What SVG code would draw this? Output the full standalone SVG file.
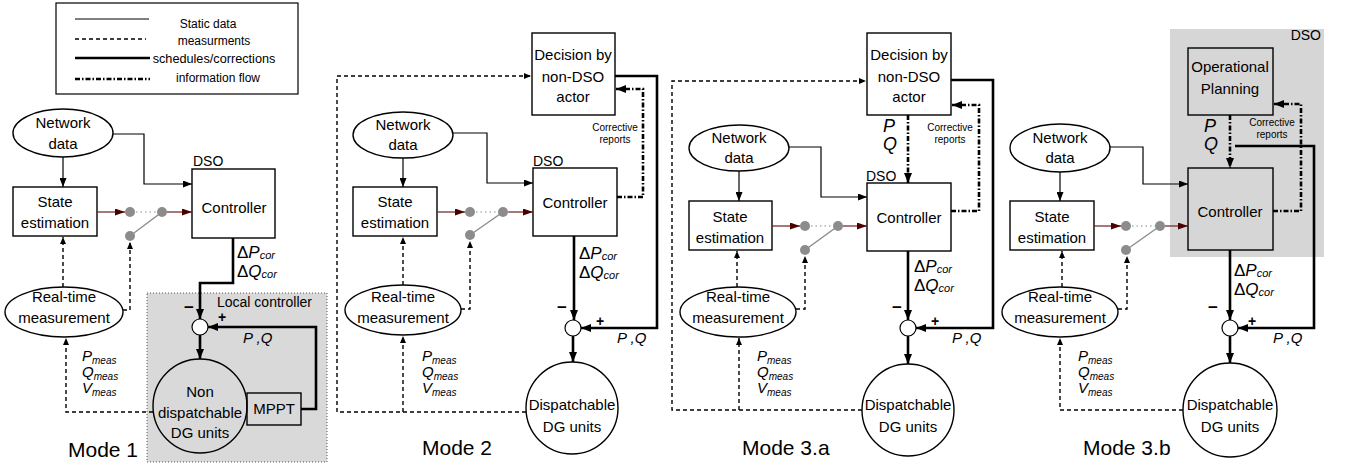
<svg xmlns="http://www.w3.org/2000/svg" width="1345" height="466" viewBox="0 0 1345 466">
  <style>
    text { font-family: "Liberation Sans", Arial, sans-serif; fill: #000; }
    .t { font-size: 15px; text-anchor: middle; }
    .lg { font-size: 12px; text-anchor: middle; }
    .sm { font-size: 10px; text-anchor: middle; }
    .md { font-size: 21px; }
    .lbl { font-size: 14px; }
    .it { font-style: italic; }
    .big { font-size: 17px; }
    .pq { font-size: 18px; font-style: italic; }
    .mth { font-size: 15px; font-style: italic; }
    .sub { font-size: 10px; font-style: italic; }
    .subb { font-size: 11px; font-style: italic; }
    .sign { font-size: 17px; font-weight: bold; text-anchor: middle; }
    .box { fill: #fff; stroke: #000; stroke-width: 1.4; }
    .gbox { fill: none; stroke: #000; stroke-width: 1.4; }
    .sum { fill: #fff; stroke: #000; stroke-width: 1.2; }
    .thin { fill: none; stroke: #000; stroke-width: 1.2; marker-end: url(#arr); }
    .dash { fill: none; stroke: #000; stroke-width: 1.4; stroke-dasharray: 4 3; }
    .dasha { fill: none; stroke: #000; stroke-width: 1.4; stroke-dasharray: 4 3; marker-end: url(#arrs); }
    .thicka { fill: none; stroke: #000; stroke-width: 2.6; marker-end: url(#arrb); }
    .info { fill: none; stroke: #000; stroke-width: 2.6; stroke-dasharray: 5 2 1.5 2; marker-end: url(#arrb); }
    .red { fill: none; stroke: #6b1f1f; stroke-width: 1.2; marker-end: url(#arrr); }
    .dot { fill: #8c8c8c; }
    .gl { stroke: #8c8c8c; stroke-width: 1.4; fill: none; }
    .gd { stroke: #8c8c8c; stroke-width: 1.2; stroke-dasharray: 1.5 3; fill: none; }
  </style>
  <defs>
    <marker id="arr" markerUnits="userSpaceOnUse" markerWidth="9" markerHeight="7" refX="9" refY="3.5" orient="auto">
      <path d="M0,0 L9,3.5 L0,7 z" fill="#000"/>
    </marker>
    <marker id="arrs" markerUnits="userSpaceOnUse" markerWidth="7" markerHeight="6" refX="7" refY="3" orient="auto">
      <path d="M0,0 L7,3 L0,6 z" fill="#000"/>
    </marker>
    <marker id="arrb" markerUnits="userSpaceOnUse" markerWidth="10" markerHeight="8" refX="10" refY="4" orient="auto">
      <path d="M0,0 L10,4 L0,8 z" fill="#000"/>
    </marker>
    <marker id="arrr" markerUnits="userSpaceOnUse" markerWidth="10" markerHeight="7" refX="10" refY="3.5" orient="auto">
      <path d="M0,0 L10,3.5 L0,7 z" fill="#4a0000"/>
    </marker>
  </defs>

  <!-- Legend -->
  <g id="legend">
    <rect x="56" y="3" width="242" height="91" fill="#fff" stroke="#000" stroke-width="1.2"/>
    <line x1="75" y1="19" x2="149" y2="19" stroke="#000" stroke-width="1.2"/>
    <line x1="75" y1="39" x2="146" y2="39" class="dash"/>
    <line x1="75" y1="58" x2="150" y2="58" stroke="#000" stroke-width="2.6"/>
    <line x1="75" y1="79" x2="150" y2="79" stroke="#000" stroke-width="2.6" stroke-dasharray="5 2 1.5 2"/>
    <text class="lg" x="208" y="28">Static data</text>
    <text class="lg" x="214" y="45">measurments</text>
    <text class="lg" x="214" y="63" style="font-size:12.7px">schedules/corrections</text>
    <text class="lg" x="218" y="82">information flow</text>
  </g>

  <!-- ================= Mode 1 ================= -->
  <g id="mode1">
    <g id="m1-local">
      <rect x="147" y="293" width="180" height="169" fill="#d9d9d9" stroke="#555" stroke-width="1" stroke-dasharray="1 2"/>
      <text class="lbl" x="217" y="307">Local controller</text>
    </g>
    <g id="m1-netdata">
      <ellipse cx="63" cy="133" rx="50" ry="24" class="box"/>
      <text class="t" x="63" y="128">Network</text>
      <text class="t" x="63" y="149">data</text>
    </g>
    <g id="m1-state">
      <rect x="13" y="187" width="84" height="49" class="box"/>
      <text class="t" x="55" y="207">State</text>
      <text class="t" x="55" y="228">estimation</text>
    </g>
    <g id="m1-controller">
      <rect x="192" y="169" width="83" height="69" class="box"/>
      <text class="lbl" x="193" y="166">DSO</text>
      <text class="t" x="234" y="213">Controller</text>
    </g>
    <g id="m1-realtime">
      <ellipse cx="64" cy="312" rx="59" ry="25" class="box"/>
      <text class="t" x="64" y="302">Real-time</text>
      <text class="t" x="64" y="323">measurement</text>
    </g>
    <g id="m1-sum">
      <circle cx="200" cy="327" r="8" class="sum"/>
      <text class="sign" x="189" y="313">−</text>
      <text class="sign" x="222" y="322" style="font-size:14px">+</text>
    </g>
    <g id="m1-dg">
      <circle cx="200" cy="406" r="47" class="gbox"/>
      <text class="t" x="200" y="397">Non</text>
      <text class="t" x="200" y="418">dispatchable</text>
      <text class="t" x="200" y="438">DG units</text>
    </g>
    <g id="m1-mppt">
      <rect x="247" y="393" width="54" height="32" class="gbox"/>
      <text class="t" x="274" y="414">MPPT</text>
    </g>
    <g id="m1-switch">
      <circle cx="130" cy="212" r="5" class="dot"/>
      <circle cx="162" cy="212" r="5" class="dot"/>
      <circle cx="130" cy="236" r="5" class="dot"/>
      <line x1="136" y1="212" x2="157" y2="212" class="gd"/>
      <line x1="130" y1="236" x2="162" y2="212" class="gl"/>
    </g>
    <g id="m1-connectors">
      <line x1="63" y1="157" x2="63" y2="187" class="thin"/>
      <polyline points="113,134 144,134 144,184 192,184" class="thin"/>
      <line x1="97" y1="212" x2="125" y2="212" class="red"/>
      <line x1="167" y1="212" x2="192" y2="212" class="red"/>
      <line x1="63" y1="287" x2="63" y2="237" class="dasha"/>
      <polyline points="123,310 130,310 130,242" class="dasha"/>
      <polyline points="153,412 66,412 66,338" class="dasha"/>
      <polyline points="233,238 233,283 200,283 200,319" class="thicka"/>
      <line x1="200" y1="335" x2="200" y2="359" class="thicka"/>
      <polyline points="301,409 316,409 316,327 208,327" class="thicka"/>
    </g>
    <g id="m1-labels">
      <text class="big" x="237" y="258">Δ<tspan class="it">P</tspan><tspan class="subb" dy="1">cor</tspan><tspan x="237" dy="18">Δ</tspan><tspan class="it">Q</tspan><tspan class="subb" dy="1">cor</tspan></text>
      <text class="mth" x="243" y="343">P ,Q</text>
      <text class="mth" x="82" y="361">P<tspan class="sub" dy="3">meas</tspan><tspan x="82" dy="13">Q</tspan><tspan class="sub" dy="3">meas</tspan><tspan x="82" dy="13">V</tspan><tspan class="sub" dy="3">meas</tspan></text>
      <text class="md" x="68" y="457">Mode 1</text>
    </g>
  </g>

  <!-- ================= Mode 2 ================= -->
  <g id="mode2">
    <g id="m2-decision">
      <rect x="532" y="33" width="83" height="82" class="box"/>
      <text class="t" x="573" y="60">Decision by</text>
      <text class="t" x="573" y="82">non-DSO</text>
      <text class="t" x="573" y="102">actor</text>
    </g>
    <g id="m2-netdata">
      <ellipse cx="403" cy="135" rx="50" ry="23" class="box"/>
      <text class="t" x="403" y="130">Network</text>
      <text class="t" x="403" y="150">data</text>
    </g>
    <g id="m2-state">
      <rect x="353" y="187" width="84" height="49" class="box"/>
      <text class="t" x="395" y="207">State</text>
      <text class="t" x="395" y="228">estimation</text>
    </g>
    <g id="m2-controller">
      <rect x="533" y="168" width="84" height="68" class="box"/>
      <text class="lbl" x="533" y="166">DSO</text>
      <text class="t" x="575" y="208">Controller</text>
    </g>
    <g id="m2-realtime">
      <ellipse cx="403" cy="310" rx="58" ry="25" class="box"/>
      <text class="t" x="403" y="302">Real-time</text>
      <text class="t" x="403" y="323">measurement</text>
    </g>
    <g id="m2-sum">
      <circle cx="573" cy="328" r="8" class="sum"/>
      <text class="sign" x="562" y="313">−</text>
      <text class="sign" x="600" y="326" style="font-size:14px">+</text>
    </g>
    <g id="m2-dg">
      <circle cx="572" cy="408" r="46" class="box"/>
      <text class="t" x="572" y="410">Dispatchable</text>
      <text class="t" x="572" y="432">DG units</text>
    </g>
    <g id="m2-switch">
      <circle cx="470" cy="212" r="5" class="dot"/>
      <circle cx="503" cy="212" r="5" class="dot"/>
      <circle cx="470" cy="235" r="5" class="dot"/>
      <line x1="476" y1="212" x2="498" y2="212" class="gd"/>
      <line x1="470" y1="235" x2="503" y2="212" class="gl"/>
    </g>
    <g id="m2-connectors">
      <line x1="403" y1="158" x2="403" y2="187" class="thin"/>
      <polyline points="453,133 487,133 487,183 533,183" class="thin"/>
      <line x1="437" y1="212" x2="465" y2="212" class="red"/>
      <line x1="508" y1="212" x2="533" y2="212" class="red"/>
      <line x1="403" y1="285" x2="403" y2="237" class="dasha"/>
      <polyline points="461,309 470,309 470,241" class="dasha"/>
      <polyline points="526,412 337,412 337,76 531,76" class="dasha"/>
      <line x1="403" y1="412" x2="403" y2="336" class="dasha"/>
      <polyline points="615,76 657,76 657,328 581,328" class="thicka"/>
      <polyline points="617,197 643,197 643,89 616,89" class="info"/>
      <line x1="574" y1="236" x2="574" y2="320" class="thicka"/>
      <line x1="573" y1="336" x2="573" y2="362" class="thicka"/>
    </g>
    <g id="m2-labels">
      <text class="sm" x="615" y="131">Corrective</text>
      <text class="sm" x="615" y="143">reports</text>
      <text class="big" x="579" y="259">Δ<tspan class="it">P</tspan><tspan class="subb" dy="1">cor</tspan><tspan x="579" dy="18">Δ</tspan><tspan class="it">Q</tspan><tspan class="subb" dy="1">cor</tspan></text>
      <text class="mth" x="617" y="343">P ,Q</text>
      <text class="mth" x="422" y="361">P<tspan class="sub" dy="3">meas</tspan><tspan x="422" dy="13">Q</tspan><tspan class="sub" dy="3">meas</tspan><tspan x="422" dy="13">V</tspan><tspan class="sub" dy="3">meas</tspan></text>
      <text class="md" x="422" y="455">Mode 2</text>
    </g>
  </g>

  <!-- ================= Mode 3.a ================= -->
  <g id="mode3a">
    <g id="m3a-decision">
      <rect x="867" y="33" width="84" height="82" class="box"/>
      <text class="t" x="909" y="60">Decision by</text>
      <text class="t" x="909" y="82">non-DSO</text>
      <text class="t" x="909" y="102">actor</text>
    </g>
    <g id="m3a-netdata">
      <ellipse cx="739" cy="148" rx="50" ry="23" class="box"/>
      <text class="t" x="739" y="143">Network</text>
      <text class="t" x="739" y="163">data</text>
    </g>
    <g id="m3a-state">
      <rect x="689" y="201" width="83" height="49" class="box"/>
      <text class="t" x="730" y="222">State</text>
      <text class="t" x="730" y="243">estimation</text>
    </g>
    <g id="m3a-controller">
      <rect x="867" y="183" width="84" height="68" class="box"/>
      <text class="lbl" x="866" y="181">DSO</text>
      <text class="t" x="909" y="223">Controller</text>
    </g>
    <g id="m3a-realtime">
      <ellipse cx="738" cy="312" rx="58" ry="25" class="box"/>
      <text class="t" x="738" y="302">Real-time</text>
      <text class="t" x="738" y="323">measurement</text>
    </g>
    <g id="m3a-sum">
      <circle cx="908" cy="328" r="8" class="sum"/>
      <text class="sign" x="897" y="313">−</text>
      <text class="sign" x="935" y="326" style="font-size:14px">+</text>
    </g>
    <g id="m3a-dg">
      <circle cx="908" cy="410" r="46" class="box"/>
      <text class="t" x="908" y="410">Dispatchable</text>
      <text class="t" x="908" y="432">DG units</text>
    </g>
    <g id="m3a-switch">
      <circle cx="805" cy="226" r="5" class="dot"/>
      <circle cx="838" cy="226" r="5" class="dot"/>
      <circle cx="805" cy="250" r="5" class="dot"/>
      <line x1="811" y1="226" x2="833" y2="226" class="gd"/>
      <line x1="805" y1="250" x2="838" y2="226" class="gl"/>
    </g>
    <g id="m3a-connectors">
      <line x1="739" y1="171" x2="739" y2="201" class="thin"/>
      <polyline points="788,147 821,147 821,197 867,197" class="thin"/>
      <line x1="772" y1="226" x2="800" y2="226" class="red"/>
      <line x1="843" y1="226" x2="867" y2="226" class="red"/>
      <line x1="737" y1="287" x2="737" y2="251" class="dasha"/>
      <polyline points="796,309 805,309 805,256" class="dasha"/>
      <polyline points="862,410 672,410 672,81 866,81" class="dasha"/>
      <line x1="739" y1="410" x2="739" y2="338" class="dasha"/>
      <polyline points="951,80 993,80 993,328 916,328" class="thicka"/>
      <polyline points="951,211 979,211 979,105 952,105" class="info"/>
      <line x1="908" y1="115" x2="908" y2="183" class="info"/>
      <line x1="908" y1="251" x2="908" y2="320" class="thicka"/>
      <line x1="908" y1="336" x2="908" y2="364" class="thicka"/>
    </g>
    <g id="m3a-labels">
      <text class="sm" x="950" y="131">Corrective</text>
      <text class="sm" x="950" y="143">reports</text>
      <text class="pq" x="883" y="132">P<tspan x="883" dy="18">Q</tspan></text>
      <text class="big" x="914" y="272">Δ<tspan class="it">P</tspan><tspan class="subb" dy="1">cor</tspan><tspan x="914" dy="18">Δ</tspan><tspan class="it">Q</tspan><tspan class="subb" dy="1">cor</tspan></text>
      <text class="mth" x="952" y="343">P ,Q</text>
      <text class="mth" x="757" y="361">P<tspan class="sub" dy="3">meas</tspan><tspan x="757" dy="13">Q</tspan><tspan class="sub" dy="3">meas</tspan><tspan x="757" dy="13">V</tspan><tspan class="sub" dy="3">meas</tspan></text>
      <text class="md" x="742" y="455">Mode 3.a</text>
    </g>
  </g>

  <!-- ================= Mode 3.b ================= -->
  <g id="mode3b">
    <g id="m3b-dso">
      <rect x="1170" y="29" width="154" height="228" fill="#d6d6d6"/>
      <text class="lbl" x="1321" y="40" text-anchor="end">DSO</text>
    </g>
    <g id="m3b-planning">
      <rect x="1188" y="48" width="85" height="67" class="gbox"/>
      <text class="t" x="1230" y="72">Operational</text>
      <text class="t" x="1230" y="94">Planning</text>
    </g>
    <g id="m3b-netdata">
      <ellipse cx="1060" cy="148" rx="50" ry="24" class="box"/>
      <text class="t" x="1060" y="143">Network</text>
      <text class="t" x="1060" y="163">data</text>
    </g>
    <g id="m3b-state">
      <rect x="1010" y="201" width="84" height="49" class="box"/>
      <text class="t" x="1052" y="222">State</text>
      <text class="t" x="1052" y="243">estimation</text>
    </g>
    <g id="m3b-controller">
      <rect x="1188" y="168" width="85" height="82" class="gbox"/>
      <text class="t" x="1230" y="217">Controller</text>
    </g>
    <g id="m3b-realtime">
      <ellipse cx="1060" cy="312" rx="58" ry="25" class="box"/>
      <text class="t" x="1060" y="302">Real-time</text>
      <text class="t" x="1060" y="323">measurement</text>
    </g>
    <g id="m3b-sum">
      <circle cx="1230" cy="328" r="8" class="sum"/>
      <text class="sign" x="1213" y="313">−</text>
      <text class="sign" x="1252" y="326" style="font-size:14px">+</text>
    </g>
    <g id="m3b-dg">
      <circle cx="1230" cy="410" r="47" class="box"/>
      <text class="t" x="1230" y="410">Dispatchable</text>
      <text class="t" x="1230" y="432">DG units</text>
    </g>
    <g id="m3b-switch">
      <circle cx="1126" cy="226" r="5" class="dot"/>
      <circle cx="1160" cy="226" r="5" class="dot"/>
      <circle cx="1126" cy="250" r="5" class="dot"/>
      <line x1="1132" y1="226" x2="1155" y2="226" class="gd"/>
      <line x1="1126" y1="250" x2="1160" y2="226" class="gl"/>
    </g>
    <g id="m3b-connectors">
      <line x1="1060" y1="172" x2="1060" y2="201" class="thin"/>
      <polyline points="1110,147 1143,147 1143,184 1188,184" class="thin"/>
      <line x1="1094" y1="226" x2="1121" y2="226" class="red"/>
      <line x1="1165" y1="226" x2="1188" y2="226" class="red"/>
      <line x1="1062" y1="287" x2="1062" y2="251" class="dasha"/>
      <polyline points="1118,309 1127,309 1127,256" class="dasha"/>
      <polyline points="1183,410 1060,410 1060,338" class="dasha"/>
      <polyline points="1235,146 1314,146 1314,328 1238,328" class="thicka"/>
      <polyline points="1273,211 1301,211 1301,104 1274,104" class="info"/>
      <line x1="1230" y1="115" x2="1230" y2="168" class="info"/>
      <line x1="1230" y1="250" x2="1230" y2="320" class="thicka"/>
      <line x1="1230" y1="336" x2="1230" y2="363" class="thicka"/>
    </g>
    <g id="m3b-labels">
      <text class="sm" x="1272" y="126">Corrective</text>
      <text class="sm" x="1272" y="138">reports</text>
      <text class="pq" x="1204" y="132">P<tspan x="1204" dy="18">Q</tspan></text>
      <text class="big" x="1234" y="276">Δ<tspan class="it">P</tspan><tspan class="subb" dy="1">cor</tspan><tspan x="1234" dy="18">Δ</tspan><tspan class="it">Q</tspan><tspan class="subb" dy="1">cor</tspan></text>
      <text class="mth" x="1273" y="343">P ,Q</text>
      <text class="mth" x="1078" y="361">P<tspan class="sub" dy="3">meas</tspan><tspan x="1078" dy="13">Q</tspan><tspan class="sub" dy="3">meas</tspan><tspan x="1078" dy="13">V</tspan><tspan class="sub" dy="3">meas</tspan></text>
      <text class="md" x="1083" y="455">Mode 3.b</text>
    </g>
  </g>
</svg>
